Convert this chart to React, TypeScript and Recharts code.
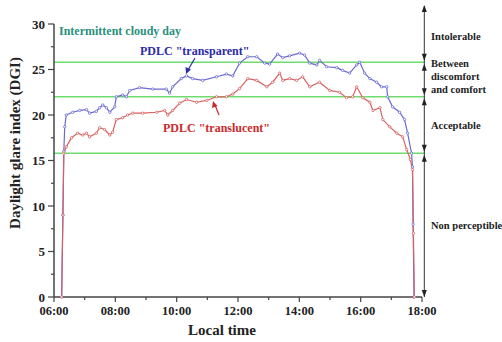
import { LineChart, Line, XAxis, YAxis, ReferenceLine } from "recharts"

// local time in decimal hours, DGI values
const transparentTimes = [
  6.25, 6.29, 6.32, 6.35, 6.4, 6.61, 6.84, 7.06, 7.16, 7.38, 7.49, 7.59, 7.71, 7.82, 7.98,
  8.03, 8.24, 8.36, 8.47, 8.79, 9.22, 9.66, 9.77, 9.87, 10.15, 10.32, 10.52, 10.85, 11.3,
  11.62, 11.83, 12.05, 12.32, 12.61, 12.87, 13.03, 13.29, 13.46, 13.68, 14.01, 14.17, 14.34,
  14.57, 14.66, 14.89, 15.22, 15.41, 15.64, 15.87, 15.97, 16.13, 16.3, 16.52, 16.68, 16.85,
  16.88, 17.04, 17.27, 17.43, 17.53, 17.66, 17.69, 17.71, 17.74,
]
const transparentDgi = [
  0, 9, 16, 18.7, 20.0, 20.3, 20.5, 20.6, 20.2, 20.4, 20.8, 21.1, 20.8, 20.3, 20.9,
  22.0, 22.2, 22.0, 22.7, 23.0, 22.85, 22.85, 22.4, 23.1, 24.0, 24.3, 24.0, 23.8, 24.2,
  24.5, 24.3, 25.7, 26.4, 26.4, 25.7, 25.6, 26.7, 26.3, 26.5, 26.8, 26.6, 25.7,
  25.5, 26.0, 25.3, 25.2, 24.9, 24.6, 25.5, 25.8, 24.6, 24.0, 23.6, 23.1, 23.1,
  22.0, 20.9, 20.3, 19.5, 18.0, 15.8, 14.3, 8, 0,
]

const translucentTimes = [
  6.25, 6.29, 6.32, 6.4, 6.57, 6.77, 6.94, 7.06, 7.16, 7.38, 7.49, 7.65, 7.82, 7.91,
  8.03, 8.24, 8.4, 8.57, 8.89, 9.35, 9.61, 9.71, 9.87, 10.1, 10.32, 10.65, 10.98, 11.3,
  11.62, 11.83, 12.05, 12.32, 12.61, 12.94, 13.13, 13.36, 13.46, 13.68, 13.91, 14.11,
  14.34, 14.66, 14.99, 15.31, 15.54, 15.74, 15.87, 16.07, 16.3, 16.4, 16.63, 16.72, 16.95,
  17.18, 17.37, 17.5, 17.62, 17.69, 17.72, 17.75,
]
const translucentDgi = [
  0, 9, 15.8, 16.5, 17.5, 18.0, 17.8, 18.0, 17.6, 18.0, 18.6, 18.4, 17.8, 18.1,
  19.5, 19.7, 20.0, 20.2, 20.2, 20.3, 20.5, 20.0, 20.5, 21.3, 21.7, 21.4, 21.6, 22.0,
  22.0, 22.3, 22.9, 24.0, 23.8, 23.1, 23.6, 24.6, 23.8, 24.0, 23.8, 24.2,
  23.1, 23.6, 22.7, 22.5, 21.9, 22.0, 23.1, 21.9, 21.4, 20.5, 20.8, 19.5, 18.7,
  18.0, 17.6, 16.2, 15.1, 14.0, 7, 0,
]

const xTicks = [6, 7, 8, 9, 10, 11, 12, 13, 14, 15, 16, 17, 18]
const xMajor = ["06:00", "08:00", "10:00", "12:00", "14:00", "16:00", "18:00"]
const yTicks = [0, 2.5, 5, 7.5, 10, 12.5, 15, 17.5, 20, 22.5, 25, 27.5, 30]
const comfortBounds = [15.8, 22, 25.8]
const zoneLabels = [
  { lines: ["Intolerable"], y: 28.2 },
  { lines: ["Between", "discomfort", "and comfort"], y: 25.3 },
  { lines: ["Acceptable"], y: 18.5 },
  { lines: ["Non perceptible"], y: 7.5 },
]

const W = 502
const H = 342
const TOP = 24
const BOTTOM = 297
const RIGHT = 422
const SERIF = "'Liberation Serif', 'Times New Roman', serif"
const BLUE = "#6a6ad2"
const RED = "#d86060"

const yPx = (v: number) => TOP + ((30 - v) / 30) * (BOTTOM - TOP)

const transparentData = transparentTimes.map((t, i) => ({ t, dgi: transparentDgi[i] }))
const translucentData = translucentTimes.map((t, i) => ({ t, dgi: translucentDgi[i] }))

function XTick(props: any) {
  const { x, y, payload } = props
  const v = payload.value
  const major = v % 2 === 0
  const ay = y - 8
  return (
    <g>
      <line x1={x} x2={x} y1={ay} y2={ay + (major ? 5 : 3)} stroke="#444" strokeWidth={1.2} />
      {major && (
        <text x={x} y={ay + 18} textAnchor="middle" fontFamily={SERIF} fontWeight="bold" fontSize={12.5} fill="#222">
          {xMajor[(v - 6) / 2]}
        </text>
      )}
    </g>
  )
}

function YTick(props: any) {
  const { x, y, payload } = props
  const v = payload.value
  const major = v % 5 === 0
  const ax = x + 8
  return (
    <g>
      <line x1={ax} x2={ax - (major ? 6 : 3)} y1={y} y2={y} stroke="#444" strokeWidth={1.2} />
      {major && (
        <text x={ax - 9} y={y} dy="0.35em" textAnchor="end" fontFamily={SERIF} fontWeight="bold" fontSize={13} fill="#222">
          {v}
        </text>
      )}
    </g>
  )
}

function Head({ x, y, up }: { x: number; y: number; up: boolean }) {
  const d = up ? 7 : -7
  return <polygon points={`${x},${y} ${x - 2.5},${y + d} ${x + 2.5},${y + d}`} fill="#222" />
}

function Annotations() {
  const ax = 424.3
  const b = comfortBounds.map(yPx)
  return (
    <svg width={W} height={H} style={{ position: "absolute", left: 0, top: 0, pointerEvents: "none" }}>
      <line x1={ax} x2={ax} y1={6} y2={BOTTOM} stroke="#333" strokeWidth={1} />
      <Head x={ax} y={5} up />
      {b.map((py, i) => (
        <g key={i}>
          <Head x={ax} y={py - 1.5} up={false} />
          <Head x={ax} y={py + 1.5} up />
        </g>
      ))}
      <Head x={ax} y={BOTTOM} up={false} />
      {zoneLabels.map((z, i) => (
        <text key={i} x={431} y={yPx(z.y)} fontFamily={SERIF} fontWeight="bold" fontSize={10.5} fill="#222">
          {z.lines.map((l, j) => (
            <tspan key={j} x={431} dy={j === 0 ? 0 : 13}>
              {l}
            </tspan>
          ))}
        </text>
      ))}

      <text x={59} y={35} fontFamily={SERIF} fontWeight="bold" fontSize={12} fill="#2a8f7d">
        Intermittent cloudy day
      </text>
      <text x={140} y={55} fontFamily={SERIF} fontWeight="bold" fontSize={12} fill="#2b2ba8">
        PDLC "transparent"
      </text>
      <text x={163} y={132} fontFamily={SERIF} fontWeight="bold" fontSize={12} fill="#cc2a2a">
        PDLC "translucent"
      </text>
      <line x1={195} y1={58} x2={188} y2={70} stroke="#2b2ba8" strokeWidth={1.2} />
      <polygon points="186,74 185.5,67 191,69.5" fill="#2b2ba8" />
      <line x1={219} y1={115} x2={215} y2={105} stroke="#cc2a2a" strokeWidth={1.2} />
      <polygon points="213,101 212,108 217.5,106" fill="#cc2a2a" />

      <text
        transform="translate(15, 143) rotate(-90)"
        textAnchor="middle"
        dominantBaseline="central"
        fontFamily={SERIF}
        fontWeight="bold"
        fontSize={15}
        fill="#222"
      >
        Daylight glare index (DGI)
      </text>
      <text x={222} y={335} textAnchor="middle" fontFamily={SERIF} fontWeight="bold" fontSize={15} fill="#222">
        Local time
      </text>
    </svg>
  )
}

export default function App() {
  return (
    <div style={{ position: "absolute", left: 0, top: 0, width: W, height: H, background: "#fff" }}>
      <LineChart width={W} height={H} margin={{ top: TOP, right: W - RIGHT, left: 0, bottom: 0 }}>
        <XAxis
          dataKey="t"
          type="number"
          domain={[6, 18]}
          ticks={xTicks}
          allowDataOverflow
          height={H - BOTTOM}
          tickSize={0}
          tickMargin={8}
          tickLine={false}
          tick={<XTick />}
          stroke="#444"
          strokeWidth={1.5}
          interval={0}
        />
        <YAxis
          type="number"
          domain={[0, 30]}
          ticks={yTicks}
          width={54}
          tickSize={0}
          tickMargin={8}
          tickLine={false}
          tick={<YTick />}
          stroke="#444"
          strokeWidth={1.5}
          interval={0}
        />
        {comfortBounds.map((v) => (
          <ReferenceLine
            key={v}
            ifOverflow="visible"
            segment={[{ x: 6, y: v }, { x: 18.1, y: v }]}
            stroke="#6fdc6f"
            strokeWidth={1.6}
          />
        ))}
        <Line
          data={transparentData}
          dataKey="dgi"
          type="linear"
          stroke={BLUE}
          strokeWidth={1.2}
          dot={{ r: 1.2, fill: "#fff", stroke: BLUE, strokeWidth: 0.8 }}
          isAnimationActive={false}
        />
        <Line
          data={translucentData}
          dataKey="dgi"
          type="linear"
          stroke={RED}
          strokeWidth={1.2}
          dot={{ r: 1.2, fill: "#fff", stroke: RED, strokeWidth: 0.8 }}
          isAnimationActive={false}
        />
      </LineChart>
      <Annotations />
    </div>
  )
}
